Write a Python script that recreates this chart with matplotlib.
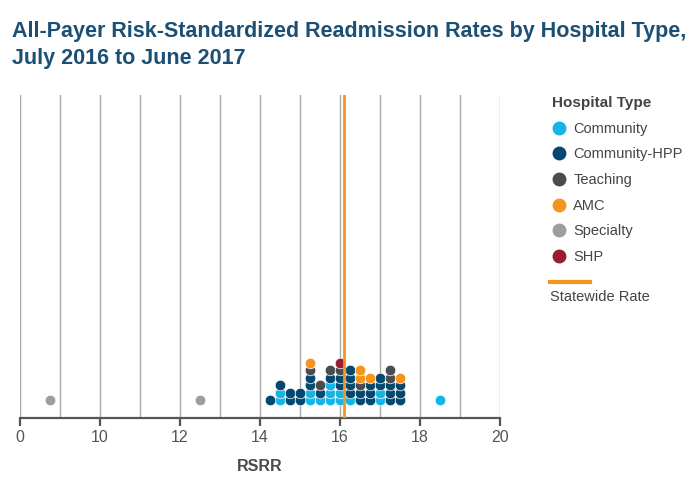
import numpy as np
import matplotlib
matplotlib.use("Agg")
from matplotlib import pyplot as plt
from matplotlib.lines import Line2D

plt.rcParams['font.family'] = ['Liberation Sans', 'DejaVu Sans']

# RSRR values per hospital (binned to the dot-plot columns)
community = [14.5, 14.5, 15.25, 15.25, 15.5, 15.75, 15.75, 15.75, 16.0, 16.0,
             16.25, 17.0, 17.0, 18.5]
community_hpp = [14.25, 14.5, 14.75, 14.75, 15.0, 15.0, 15.25, 15.25, 15.5, 15.75,
                 16.0, 16.0, 16.25, 16.25, 16.25, 16.25, 16.5, 16.5,
                 16.75, 16.75, 16.75, 17.0, 17.0, 17.25, 17.25, 17.25,
                 17.5, 17.5, 17.5]
teaching = [15.25, 15.5, 15.75, 16.0, 16.5, 17.25, 17.25]
amc = [15.25, 16.5, 16.5, 16.75, 17.5]
specialty = [3.75, 12.5]
shp = [16.0]
statewide_rate = 16.1

types = ['Community', 'Community-HPP', 'Teaching', 'AMC', 'Specialty', 'SHP']
values = [community, community_hpp, teaching, amc, specialty, shp]
colors = ['#12b5e5', '#05486f', '#4b4c50', '#f7941d', '#9d9ea1', '#9b1c33']

xticks = [0, 10, 12, 14, 16, 18, 20]
grid_vals = [0, 5] + list(range(10, 21))


# axis squeezes 0-10 into the width of two units
def fwd(x):
    x = np.asarray(x, dtype=float)
    return np.where(x <= 10, x / 5.0, x - 8.0)


def inv(t):
    t = np.asarray(t, dtype=float)
    return np.where(t <= 2, t * 5.0, t + 8.0)


fig = plt.figure(figsize=(7, 4.8), dpi=100)
ax = fig.add_axes([20 / 700, 1 - 418 / 480, 480 / 700, 323 / 480])
ax.set_xscale('function', functions=(fwd, inv))
ax.set_xlim(0, 20)
ax.set_ylim(0, 323)

for g in grid_vals:
    ax.axvline(g, color='#a9a9a9', lw=1, zorder=0)

# stack dots in each column, bottom to top in category order
heights = {}
row0, step = 18, 7.5
for name, vals, c in zip(types, values, colors):
    ys = []
    for v in vals:
        k = heights.get(v, 0)
        ys.append(row0 + step * k)
        heights[v] = k + 1
    ax.scatter(vals, ys, s=58, color=c, edgecolors='white', linewidths=0.5,
               zorder=3, label=name)

ax.axvline(statewide_rate, color='#f7941d', lw=2, zorder=4)

for s in ['top', 'right', 'left']:
    ax.spines[s].set_visible(False)
ax.spines['bottom'].set_color('#555555')
ax.spines['bottom'].set_linewidth(1.6)
ax.set_yticks([])
ax.set_xticks(xticks)
ax.set_xticklabels([str(t) for t in xticks])
ax.minorticks_off()
ax.tick_params(axis='x', length=6, width=1.6, color='#555555',
               labelsize=11.5, labelcolor='#555555', pad=3)
ax.set_xlabel('RSRR', fontsize=11.5, fontweight='bold', color='#4a4a4a', labelpad=10)

fig.text(12 / 700, 1 - 45 / 480, 'All-Payer Risk-Standardized Readmission Rates by Hospital Type,\nJuly 2016 to June 2017',
         fontweight='bold', fontsize=15.5, color='#1c4f74', va='center', ha='left',
         linespacing=1.35)

handles = [Line2D([], [], ls='none', marker='o', ms=9, color=c) for c in colors]
leg = fig.legend(handles, types, title='Hospital Type', loc='upper left',
                 bbox_to_anchor=(539 / 700, 1 - 83 / 480), frameon=False,
                 fontsize=10.5, title_fontsize=11, labelspacing=0.8,
                 handlelength=1.0, handletextpad=0.45, alignment='left',
                 labelcolor='#444444')
leg.get_title().set_fontweight('bold')
leg.get_title().set_color('#444444')

fig.add_artist(Line2D([550 / 700, 590 / 700], [1 - 282 / 480, 1 - 282 / 480],
                      color='#f7941d', lw=3))
fig.text(550 / 700, 1 - 297 / 480, 'Statewide Rate', fontsize=10.5, color='#444444',
         va='center', ha='left')

fig.savefig('out.png', dpi=100)
